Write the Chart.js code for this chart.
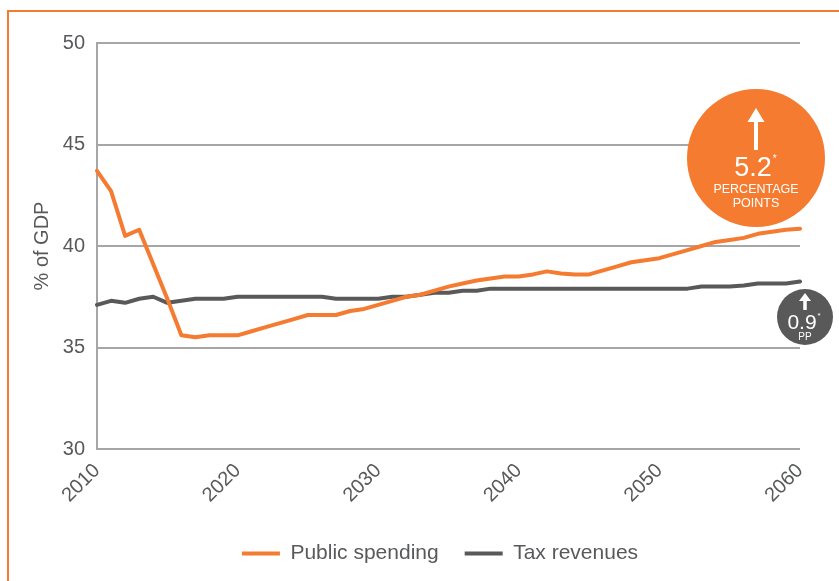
<!DOCTYPE html>
<html>
<head>
<meta charset="utf-8">
<script src="https://cdn.jsdelivr.net/npm/chart.js@4"></script>
<style>
  html, body { margin: 0; padding: 0; background: #fff; }
  #wrap { position: relative; width: 839px; height: 581px; overflow: hidden; }
  #frame {
    position: absolute; left: 7px; top: 10px; width: 900px; height: 700px;
    border-top: 2px solid #f47b30; border-left: 2px solid #f47b30;
  }
  #box { position: absolute; left: 0; top: 0; width: 839px; height: 581px; }
</style>
</head>
<body>
<div id="wrap">
  <div id="frame"></div>
  <div id="box"><canvas id="gdpChart"></canvas></div>
</div>
<script>
const years = [
  2010, 2011, 2012, 2013, 2014, 2015, 2016, 2017, 2018, 2019,
  2020, 2021, 2022, 2023, 2024, 2025, 2026, 2027, 2028, 2029,
  2030, 2031, 2032, 2033, 2034, 2035, 2036, 2037, 2038, 2039,
  2040, 2041, 2042, 2043, 2044, 2045, 2046, 2047, 2048, 2049,
  2050, 2051, 2052, 2053, 2054, 2055, 2056, 2057, 2058, 2059,
  2060
];

const publicSpending = [
  43.7, 42.7, 40.5, 40.8, 39.1, 37.4, 35.6, 35.5, 35.6, 35.6,
  35.6, 35.8, 36.0, 36.2, 36.4, 36.6, 36.6, 36.6, 36.8, 36.9,
  37.1, 37.3, 37.5, 37.6, 37.8, 38.0, 38.15, 38.3, 38.4, 38.5,
  38.5, 38.6, 38.75, 38.65, 38.6, 38.6, 38.8, 39.0, 39.2, 39.3,
  39.4, 39.6, 39.8, 40.0, 40.2, 40.3, 40.4, 40.6, 40.7, 40.8,
  40.85
];

const taxRevenues = [
  37.1, 37.3, 37.2, 37.4, 37.5, 37.2, 37.3, 37.4, 37.4, 37.4,
  37.5, 37.5, 37.5, 37.5, 37.5, 37.5, 37.5, 37.4, 37.4, 37.4,
  37.4, 37.5, 37.5, 37.6, 37.7, 37.7, 37.8, 37.8, 37.9, 37.9,
  37.9, 37.9, 37.9, 37.9, 37.9, 37.9, 37.9, 37.9, 37.9, 37.9,
  37.9, 37.9, 37.9, 38.0, 38.0, 38.0, 38.05, 38.15, 38.15, 38.15,
  38.25
];

const yTicks = [30, 35, 40, 45, 50];

const ORANGE = "#f47b30";
const GREY = "#595959";
const TEXT = "#58595b";
const FONT = "'Liberation Sans', Arial, sans-serif";

// nudge the legend right so it sits under the middle of the page
const legendShift = {
  id: "legendShift",
  afterLayout(chart) {
    chart.legend.left += 40;
    chart.legend.right += 40;
  }
};

// circular call-outs showing the change over the period
const calloutPlugin = {
  id: "callouts",
  afterDraw(chart) {
    const ctx = chart.ctx;
    const ca = chart.chartArea;

    function arrow(cx, tipY, baseY, headH, headW, shaftW) {
      ctx.fillStyle = "#fff";
      ctx.fillRect(cx - shaftW / 2, tipY + headH - 1, shaftW, baseY - tipY - headH + 1);
      ctx.beginPath();
      ctx.moveTo(cx, tipY);
      ctx.lineTo(cx + headW / 2, tipY + headH);
      ctx.lineTo(cx - headW / 2, tipY + headH);
      ctx.closePath();
      ctx.fill();
    }

    function valueText(str, cx, cy, size, starSize) {
      ctx.font = size + "px " + FONT;
      ctx.textAlign = "center";
      ctx.textBaseline = "middle";
      ctx.fillStyle = "#fff";
      ctx.fillText(str, cx, cy);
      const w = ctx.measureText(str).width;
      ctx.font = starSize + "px " + FONT;
      ctx.textAlign = "left";
      ctx.fillText("*", cx + w / 2 + 1, cy - size * 0.35);
    }

    ctx.save();

    // public spending
    let cx = ca.right - 44, cy = ca.top + 115;
    ctx.fillStyle = ORANGE;
    ctx.beginPath();
    ctx.arc(cx, cy, 69, 0, Math.PI * 2);
    ctx.fill();
    arrow(cx, cy - 50, cy - 8, 14, 17, 4);
    valueText("5.2", cx - 3, cy + 11, 27, 10);
    ctx.font = "12.5px " + FONT;
    ctx.textAlign = "center";
    ctx.fillText("PERCENTAGE", cx, cy + 32);
    ctx.fillText("POINTS", cx, cy + 46);

    // tax revenues
    cx = ca.right + 5; cy = ca.top + 274;
    ctx.fillStyle = GREY;
    ctx.beginPath();
    ctx.arc(cx, cy, 28, 0, Math.PI * 2);
    ctx.fill();
    arrow(cx, cy - 24, cy - 7, 8, 12, 3.5);
    valueText("0.9", cx - 3, cy + 6, 21, 8);
    ctx.font = "10px " + FONT;
    ctx.textAlign = "center";
    ctx.fillText("PP", cx, cy + 20);

    ctx.restore();
  }
};

const ctx = document.getElementById("gdpChart").getContext("2d");
new Chart(ctx, {
  type: "line",
  data: {
    labels: years,
    datasets: [
      {
        label: "Public spending",
        data: publicSpending,
        borderColor: ORANGE,
        backgroundColor: ORANGE,
        borderWidth: 4,
        borderCapStyle: "round",
        borderJoinStyle: "round",
        pointRadius: 0,
        tension: 0
      },
      {
        label: "Tax revenues",
        data: taxRevenues,
        borderColor: GREY,
        backgroundColor: GREY,
        borderWidth: 4,
        borderCapStyle: "round",
        borderJoinStyle: "round",
        pointRadius: 0,
        tension: 0
      }
    ]
  },
  options: {
    responsive: true,
    maintainAspectRatio: false,
    animation: false,
    layout: { padding: { left: 0, right: 39, top: 43, bottom: 7 } },
    plugins: {
      tooltip: { enabled: false },
      legend: {
        position: "bottom",
        labels: {
          usePointStyle: true,
          pointStyle: "line",
          pointStyleWidth: 38,
          boxHeight: 18,
          padding: 26,
          color: TEXT,
          font: { family: FONT, size: 21 }
        }
      }
    },
    scales: {
      x: {
        grid: { display: false, drawTicks: false },
        border: { display: false },
        ticks: {
          autoSkip: false,
          minRotation: 45,
          maxRotation: 45,
          padding: 10,
          color: TEXT,
          font: { family: FONT, size: 20 },
          callback: (val, i) => (years[i] % 10 === 0 ? String(years[i]) : null)
        },
        afterFit(scale) { scale.height = 68; }
      },
      y: {
        min: 30,
        max: 50,
        afterBuildTicks(scale) { scale.ticks = yTicks.map(v => ({ value: v })); },
        grid: { color: "#a6a6a6", lineWidth: 2, drawTicks: false },
        border: { display: true, color: "#a6a6a6", width: 2 },
        ticks: {
          padding: 12,
          color: TEXT,
          font: { family: FONT, size: 20 }
        },
        title: {
          display: true,
          text: "% of GDP",
          color: TEXT,
          font: { family: FONT, size: 20 },
          padding: { top: 30, bottom: 0 }
        },
        afterFit(scale) { scale.width = 97; }
      }
    }
  },
  plugins: [legendShift, calloutPlugin]
});
</script>
</body>
</html>
